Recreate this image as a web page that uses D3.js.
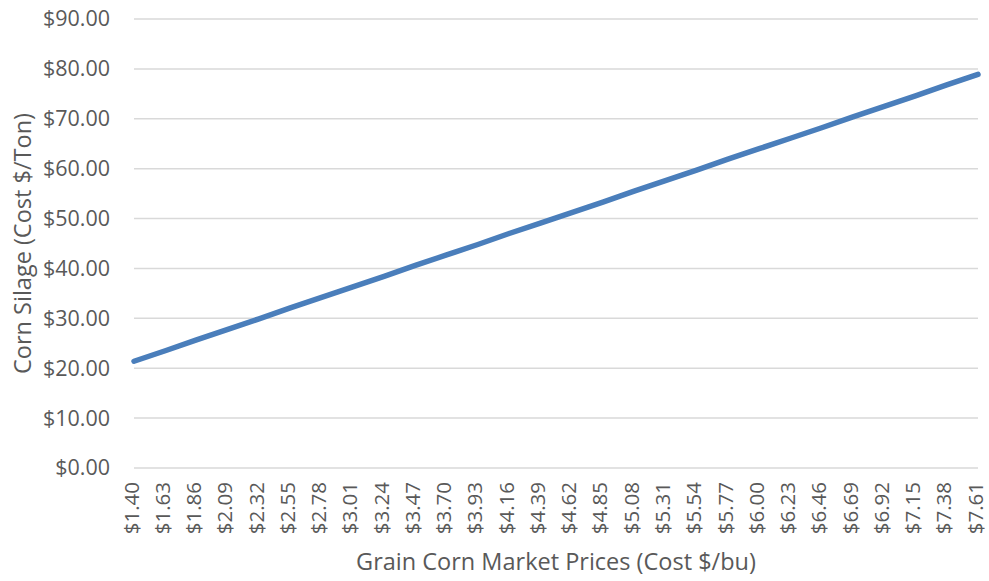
<!DOCTYPE html>
<html>
<head>
<meta charset="utf-8">
<script src="https://cdn.jsdelivr.net/npm/d3@7"></script>
<style>
  body { margin: 0; background: #fff; }
  text { font-family: "Open Sans", sans-serif; fill: #595959; }
</style>
</head>
<body>
<div id="chart"></div>
<script>
// grain corn price labels ($/bu)
const prices = ["$1.40","$1.63","$1.86","$2.09","$2.32","$2.55","$2.78","$3.01","$3.24","$3.47",
  "$3.70","$3.93","$4.16","$4.39","$4.62","$4.85","$5.08","$5.31","$5.54","$5.77",
  "$6.00","$6.23","$6.46","$6.69","$6.92","$7.15","$7.38","$7.61"];
// corn silage cost ($/ton)
const silage = [21.4,23.5,25.7,27.8,29.9,32.1,34.2,36.3,38.4,40.6,
  42.7,44.8,47.0,49.1,51.2,53.3,55.5,57.6,59.7,61.9,
  64.0,66.1,68.2,70.4,72.5,74.6,76.8,78.9];
const yTicks = [0,10,20,30,40,50,60,70,80,90];

const W = 989, H = 581;
const margin = ({top: 19, right: 11, bottom: 113, left: 134});
const width = W - margin.left - margin.right, height = H - margin.top - margin.bottom;

const svg = d3.select("#chart").append("svg")
  .attr("width", W).attr("height", H);
const g = svg.append("g")
  .attr("transform", `translate(${margin.left}, ${margin.top})`);

const x = d3.scalePoint().domain(prices).range([0, width]);
const y = d3.scaleLinear().domain([0, 90]).range([height, 0]);

// gridlines
g.selectAll(".grid").data(yTicks).enter()
  .append("line")
  .attr("x1", 0).attr("x2", width)
  .attr("y1", d => y(d)).attr("y2", d => y(d))
  .attr("stroke", "#d9d9d9").attr("stroke-width", 1.5);

// y axis labels
const yAxis = d3.axisLeft(y).tickValues(yTicks).tickSize(0).tickPadding(24)
  .tickFormat(d => "$" + d3.format(".2f")(d));
g.append("g").call(yAxis)
  .call(s => s.select(".domain").remove())
  .selectAll("text").attr("font-size", 21.5).attr("font-family", null).attr("fill", null);

// x axis labels, rotated
const xAxis = d3.axisBottom(x).tickSize(0).tickPadding(0);
g.append("g").attr("transform", `translate(0, ${height})`).call(xAxis)
  .call(s => s.select(".domain").remove())
  .selectAll("text")
  .attr("font-size", 20.5).attr("font-family", null).attr("fill", null)
  .attr("text-anchor", "end")
  .attr("transform", "rotate(-90)")
  .attr("x", -14).attr("y", 0).attr("dy", "0.2em");

// the line
const line = d3.line()
  .x((d, i) => x(prices[i]))
  .y(d => y(d));
g.append("path").datum(silage)
  .attr("d", line)
  .attr("fill", "none")
  .attr("stroke", "#4a7ebb")
  .attr("stroke-width", 5.5)
  .attr("stroke-linecap", "round");

// axis titles
svg.append("text")
  .attr("x", margin.left + width / 2).attr("y", 570)
  .attr("text-anchor", "middle").attr("font-size", 23.5)
  .text("Grain Corn Market Prices (Cost $/bu)");
svg.append("text")
  .attr("transform", `translate(23, ${margin.top + height / 2}) rotate(-90)`)
  .attr("text-anchor", "middle").attr("dy", "0.35em").attr("font-size", 23.5)
  .text("Corn Silage (Cost $/Ton)");
</script>
</body>
</html>
